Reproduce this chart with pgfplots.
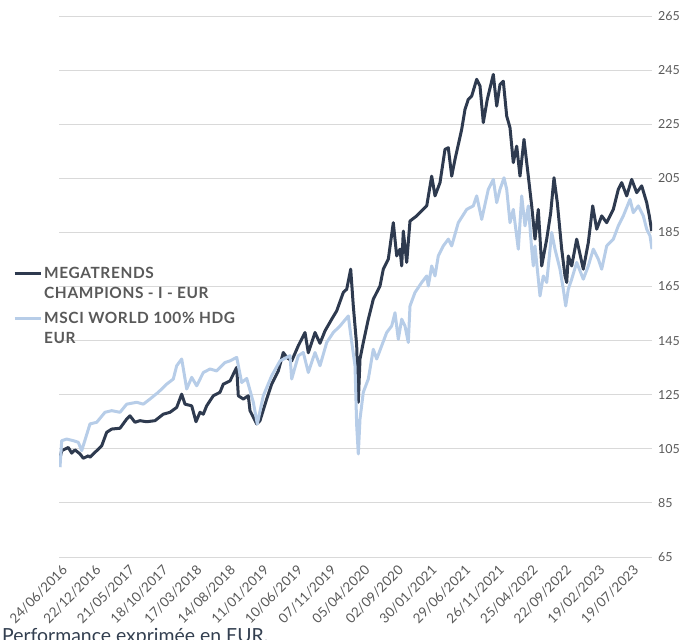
\documentclass[border=0pt]{standalone}
\usepackage{fontspec}
\setmainfont{Lato}
\usepackage{pgfplots}
\pgfplotsset{compat=1.18}
\definecolor{darkline}{HTML}{2E3A4F}
\definecolor{lightline}{HTML}{B7CDE8}
\definecolor{gridc}{HTML}{D9D9D9}
\definecolor{ticktext}{HTML}{595959}
\definecolor{foot}{HTML}{333F50}
\begin{document}
\begin{tikzpicture}[x=1bp,y=1bp]
\begin{axis}[
  at={(59bp,83bp)}, anchor=south west,
  width=593bp, height=541bp, scale only axis,
  xmin=-1, xmax=592, ymin=65, ymax=265,
  axis line style={draw=none},
  tick style={draw=none},
  ytick={65,85,105,125,145,165,185,205,225,245,265},
  yticklabel pos=right,
  ymajorgrids,
  grid style={gridc, line width=0.9bp},
  xtick={0,33.6,67.2,100.8,134.4,168,201.6,235.2,268.8,302.4,336,369.6,403.2,436.8,470.4,504,537.6,571.2},
  xticklabels={24/06/2016,22/12/2016,21/05/2017,18/10/2017,17/03/2018,14/08/2018,11/01/2019,10/06/2019,07/11/2019,05/04/2020,02/09/2020,30/01/2021,29/06/2021,26/11/2021,25/04/2022,22/09/2022,19/02/2023,19/07/2023},
  x tick label style={yshift=-11bp, xshift=5bp, rotate=45, anchor=east, font=\fontsize{13.5}{14}\selectfont, text=ticktext, inner sep=0pt},
  y tick label style={font=\fontsize{12.5}{13}\selectfont, text=ticktext, anchor=west, inner sep=0pt, xshift=6bp},
  /pgf/number format/assume math mode=true,
  legend style={at={(axis description cs:-0.0776,0.545)}, anchor=north west, draw=none, fill=none,
    font=\bfseries\fontsize{15.5}{20}\selectfont\addfontfeatures{LetterSpace=4}, text=ticktext, cells={anchor=base west}, row sep=26bp, inner sep=0pt},
  legend image code/.code={\draw[#1] (0bp,5bp) -- (26bp,5bp);},
]
\addplot[darkline, line width=3bp, line join=round] coordinates {
(0,101.5)(1.7,104.3)(8.3,105.5)(11.7,103.4)(15,104.6)(20,103.1)(23.3,101.5)(28.3,102.4)(30,101.9)
(36.7,104.3)(41.7,106.1)(46.7,111.1)(51.7,112.3)(60,112.6)(66.7,116.0)(70,117.2)(75,114.8)(80,115.4)
(86.7,115.0)(95,115.4)(103.3,117.8)(110,118.5)(116.7,120.3)(121.7,125.2)(125,121.5)(131.7,120.9)
(136,115.0)(140,118.5)(143.3,117.8)(146.7,120.9)(153.3,124.6)(160,125.9)(163.3,128.9)(170,130.1)
(176.7,135.1)(178.3,124.6)(183.3,123.4)(188.3,124.6)(190,119.1)(196.7,114.2)(200,115.4)(206.7,123.4)
(211.7,128.9)(218.3,133.8)(223.3,140.6)(226.7,138.8)(231.7,137.5)(238.3,143.1)(245,148.0)(248.3,140.5)
(255,148.0)(260,144.0)(265,148.6)(271.7,152.9)(276.7,156.0)(283.3,162.8)(286.7,164.0)(290.7,171.4)
(293.3,157.8)(296.7,143.1)(298.3,122.2)(300,138.2)(303.3,144.3)(308.3,152.9)(313.3,160.3)(320,165.2)
(323.3,171.4)(328.3,175.1)(333.3,188.6)(336.7,176.3)(340,178.8)(341.7,172.6)(343.3,185.5)(346.7,173.9)
(350,189.2)(356.7,191.1)(366.7,194.8)(371.7,205.8)(375,198.5)(380,203.4)(385,215.7)(388.3,216.3)
(391.7,205.8)(395,212.0)(401.7,223.1)(405,230.5)(408.3,234.2)(411.7,235.4)(416.7,241.6)(420,239.1)
(423.3,225.6)(427.3,234.2)(433.3,243.4)(436.7,231.7)(440,239.7)(443.3,240.9)(446.7,228.0)(450,223.7)
(453.3,210.8)(456.7,216.9)(460,205.8)(464,219.4)(468.3,205.8)(471.7,194.8)(475,182.5)(478.3,193.5)
(481.7,172.6)(486.7,182.5)(490.7,192.3)(494,205.2)(497.3,196.0)(501.7,178.8)(505,168.9)(506.7,166.5)
(508.3,176.3)(511.7,172.6)(516.7,182.5)(523.3,171.4)(528.3,181.2)(532.7,194.8)(536.7,186.2)(541.7,191.1)
(546.7,188.6)(553.3,193.5)(558.3,200.9)(561.7,203.4)(566.7,198.5)(571.7,204.6)(576.7,199.7)(581.7,202.2)
(586.7,196.0)(589.3,191.1)(591.7,185.5)
};
\addlegendentry{\begin{tabular}[t]{@{}l@{}}MEGATRENDS\\CHAMPIONS - I - EUR\end{tabular}}
\addplot[lightline, line width=3bp, line join=round] coordinates {
(0,98.2)(1.7,108.0)(6.7,108.6)(13.3,108.0)(18.3,107.4)(21.7,104.3)(30,114.2)(36.7,114.8)(45,118.5)
(51.7,119.1)(60,118.5)(66.7,121.5)(76.7,122.2)(83.3,121.5)(90,123.4)(98.3,125.9)(106.7,128.9)(113.3,130.8)
(116.7,135.7)(121.7,138.2)(126.7,127.1)(131.7,131.4)(136.7,128.3)(143.3,133.2)(150,134.5)(156.7,133.8)
(165,136.9)(170,137.5)(176.7,138.8)(181.7,129.5)(186.7,131.0)(193.3,122.2)(197.3,114.2)(203.3,124.6)
(211.7,132.0)(220,137.5)(230,139.4)(231.7,130.8)(238.3,139.4)(243.3,140.6)(248.3,133.2)(255,140.6)
(260,135.7)(266.7,144.3)(273.3,148.0)(280,150.4)(288.3,154.1)(290,149.2)(292.7,141.8)(295,135.7)
(296.7,113.5)(298.3,103.1)(300,116.0)(303.3,125.9)(308.3,130.8)(313.3,141.8)(316.7,138.2)(321.7,143.1)
(326.7,148.0)(331.7,150.4)(335,155.3)(338.3,145.5)(341.7,152.9)(345,150.4)(348.3,144.3)(350,157.8)
(355,162.8)(361.7,166.5)(366.7,168.9)(368.3,165.2)(371.7,172.6)(375,168.9)(378.3,176.3)(383.3,180.0)
(388.3,182.5)(391.7,180.0)(398.3,188.6)(406.7,193.5)(413.3,194.8)(416.7,198.5)(421.7,189.8)(428.3,200.9)
(433.3,204.6)(436.7,196.0)(440,200.9)(444,205.2)(446.7,200.9)(450,188.6)(453.3,193.5)(458.3,178.8)
(461.7,198.5)(465,187.4)(468.3,194.8)(471.7,178.8)(473.3,172.6)(475,180.0)(480,161.5)(483.3,168.9)
(486.7,166.5)(491.7,185.0)(495,178.8)(500,171.4)(503.3,164.0)(505.7,157.8)(508.3,164.0)(511.7,167.7)
(516.7,173.9)(523.3,167.7)(528.3,172.6)(533.3,178.8)(538.3,175.1)(541.7,171.4)(546.7,180.0)(553.3,182.5)
(558.3,187.4)(563.3,191.1)(570,197.2)(573.3,192.3)(578.3,194.8)(583.3,191.1)(586.7,186.2)(590,183.7)
(592,178.8)
};
\addlegendentry{\begin{tabular}[t]{@{}l@{}}MSCI WORLD 100\% HDG\\EUR\end{tabular}}
\end{axis}
\node[anchor=base west, font=\fontsize{19.5}{20}\selectfont, text=foot, inner sep=0pt] at (2bp,-2bp) {Performance exprimée en EUR.};
\pgfresetboundingbox
\useasboundingbox (0,0) rectangle (687bp,640bp);
\end{tikzpicture}
\end{document}
